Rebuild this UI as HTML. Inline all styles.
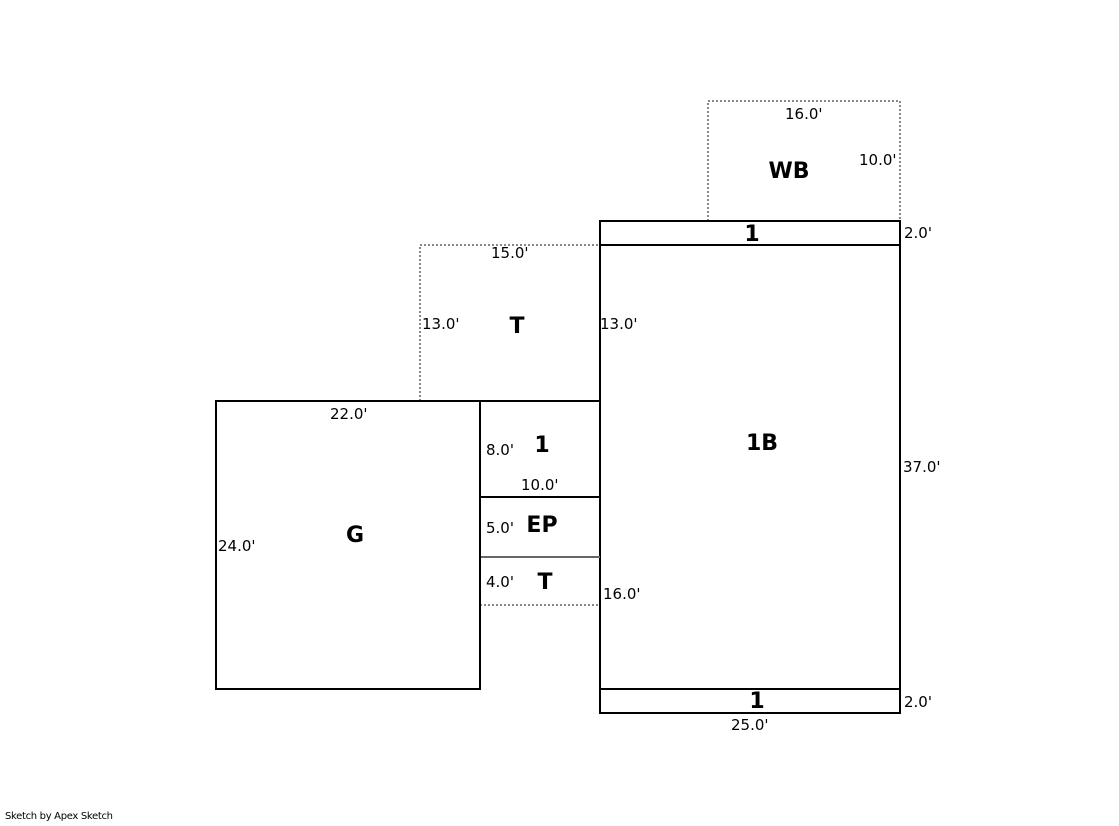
<!DOCTYPE html>
<html><head><style>
body{margin:0;background:#fff;}
svg text{font-family:"DejaVu Sans","Liberation Sans",sans-serif;}
.d{font-size:15px;fill:#000;}
.l{font-size:22px;font-weight:bold;fill:#000;text-anchor:middle;}
</style></head><body>
<svg width="1119" height="821" xmlns="http://www.w3.org/2000/svg">
<g fill="none" stroke="#888" stroke-width="2" stroke-dasharray="2,2">
<polyline points="708,221 708,101 900,101 900,221"/>
<polyline points="420,401 420,245 600,245"/>
<line x1="480" y1="605" x2="600" y2="605"/>
</g>
<g fill="none" stroke="#000" stroke-width="2">
<rect x="600" y="221" width="300" height="492"/>
<line x1="600" y1="245" x2="900" y2="245"/>
<line x1="600" y1="689" x2="900" y2="689"/>
<rect x="216" y="401" width="264" height="288"/>
<line x1="480" y1="401" x2="600" y2="401"/>
<line x1="480" y1="497" x2="600" y2="497"/>
</g>
<line x1="480" y1="557" x2="600" y2="557" stroke="#666" stroke-width="2"/>
<line x1="480" y1="497" x2="480" y2="605" stroke="#000" stroke-width="2"/>
<text class="d" x="785" y="119">16.0'</text>
<text class="d" x="859" y="165">10.0'</text>
<text class="l" x="789" y="178">WB</text>
<text class="l" x="752" y="241">1</text>
<text class="d" x="904" y="238">2.0'</text>
<text class="d" x="491" y="258">15.0'</text>
<text class="d" x="422" y="329">13.0'</text>
<text class="l" x="517" y="333">T</text>
<text class="d" x="600" y="329">13.0'</text>
<text class="l" x="762" y="450">1B</text>
<text class="d" x="903" y="472">37.0'</text>
<text class="d" x="330" y="419">22.0'</text>
<text class="d" x="486" y="455">8.0'</text>
<text class="l" x="542" y="452">1</text>
<text class="d" x="521" y="490">10.0'</text>
<text class="d" x="486" y="533">5.0'</text>
<text class="l" x="542" y="532">EP</text>
<text class="d" x="486" y="587">4.0'</text>
<text class="l" x="545" y="589">T</text>
<text class="d" x="603" y="599">16.0'</text>
<text class="d" x="218" y="551">24.0'</text>
<text class="l" x="355" y="542">G</text>
<text class="l" x="757" y="708">1</text>
<text class="d" x="904" y="707">2.0'</text>
<text class="d" x="731" y="730">25.0'</text>
<text x="5" y="819" textLength="108" style="font-size:10px;fill:#000;">Sketch by Apex Sketch</text>
</svg>
</body></html>
